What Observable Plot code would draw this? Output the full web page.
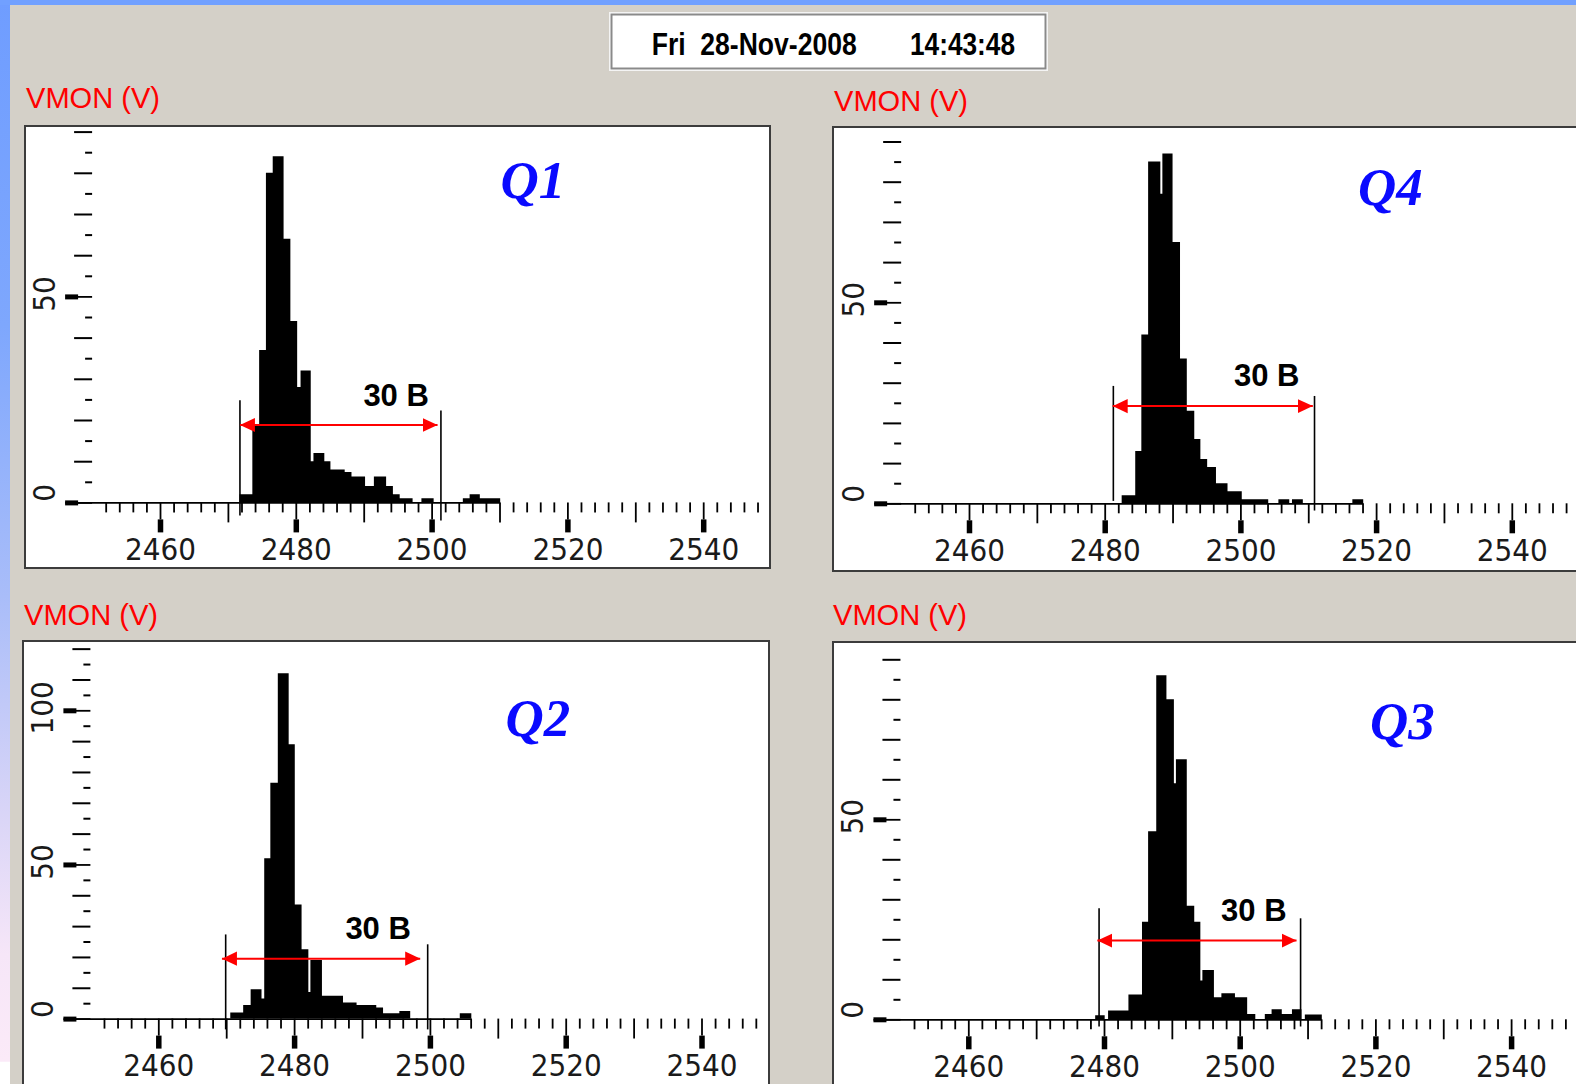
<!DOCTYPE html>
<html>
<head>
<meta charset="utf-8">
<script src="https://cdn.jsdelivr.net/npm/d3@7"></script>
<script src="https://cdn.jsdelivr.net/npm/@observablehq/plot@0.6"></script>
<style>
html, body { margin: 0; padding: 0; }
body { width: 1576px; height: 1084px; overflow: hidden; background: #d4d0c8; position: relative; font-family: "Liberation Sans", Arial, sans-serif; }
#leftbar { position: absolute; left: 0; top: 0; width: 10px; height: 1084px;
  background: linear-gradient(to bottom, #6f9dff 0%, #7ea7fd 30%, #a9bdf9 55%, #d9d5f7 75%, #f6e6f8 88%, #fbeaf8 97.9%, #ffffff 98%, #ffffff 100%); }
#topbar { position: absolute; left: 0; top: 0; width: 1576px; height: 5px; background: #71a0ff; }
.box { position: absolute; background: #fff; border: 2px solid #3c3c3c; box-sizing: border-box; overflow: hidden; }
#overlay { position: absolute; left: 0; top: 0; pointer-events: none; }
</style>
</head>
<body>
<div id="leftbar"></div>
<div id="topbar"></div>
<div id="panels"></div>
<svg id="overlay" width="1576" height="1084"></svg>
<script>
// ---------- shared axis values ----------
const xMajor = [2460, 2480, 2500, 2520, 2540];
const xMid = [2470, 2490, 2510, 2530];
const xMinor = d3.range(2452, 2549, 2).filter(v => v % 10 !== 0);
const yAxisAt = 2450;

const yLong90 = [10, 20, 30, 40, 60, 70, 80, 90];
const yShort90 = [5, 15, 25, 35, 45, 55, 65, 75, 85];
const yBold90 = [0, 50];
const yLong120 = [10, 20, 30, 40, 60, 70, 80, 90, 110, 120];
const yShort120 = [5, 15, 25, 35, 45, 55, 65, 75, 85, 95, 105, 115];
const yBold120 = [0, 50, 100];

// ---------- Q1 ----------
const q1Edges = [2471.7, 2473.6, 2474.6, 2475.6, 2476.6, 2478.2, 2479.2, 2480.2, 2480.7, 2482.2, 2482.6, 2484.2, 2485.1, 2487.2, 2488.2, 2490.2, 2491.5, 2493.3, 2494.3, 2495.3, 2497.2, 2498.5, 2500.3, 2504.6, 2505.6, 2507.1, 2508.4, 2510.1];
const q1Counts = [2, 19, 37, 80, 84, 64, 44, 28, 32, 10, 12, 10, 8, 7.4, 6.3, 4, 6.3, 4, 2, 1, 0, 1, 0, 1, 2, 1, 1];
const q1Bracket = [2471.7, 2501.3];
const q1BracketTop = [24.8, 22.3];
const q1BracketBottom = [-3.2, -4.4];
const q1Arrow = [2471.7, 2500.8];
const q1ArrowLevel = 18.9;
const q1Note = ["30 B"];
const q1NoteAt = [2494.7, 23.5];

// ---------- Q4 ----------
const q4Edges = [2482.5, 2484.5, 2485.4, 2486.4, 2488.2, 2488.5, 2490.0, 2491.1, 2492.1, 2493.2, 2494.1, 2495.1, 2496.4, 2498.1, 2500.2, 2504.1, 2505.6, 2507.2, 2507.6, 2509.2, 2516.5, 2518.1];
const q4Counts = [2, 13, 42, 85, 77, 87, 65, 36, 23, 16, 11, 9, 5, 3, 1, 0, 1, 0, 1, 0, 1];
const q4Bracket = [2481.2, 2510.85];
const q4BracketTop = [29.2, 26.7];
const q4BracketBottom = [0.6, -1.8];
const q4Arrow = [2481.1, 2510.6];
const q4ArrowLevel = 24.3;
const q4Note = ["30 B"];
const q4NoteAt = [2503.8, 29.4];

// ---------- Q2 ----------
const q2Edges = [2470.6, 2472.5, 2473.6, 2475.2, 2475.6, 2476.5, 2477.6, 2479.2, 2480.1, 2481.1, 2482.1, 2482.4, 2484.1, 2487.2, 2489.2, 2492.1, 2493.1, 2495.5, 2497.1, 2504.4, 2506.1];
const q2Counts = [2, 4.4, 9.5, 6.5, 52, 76.5, 112, 89, 37, 22.5, 8.6, 19, 7.4, 5.2, 4.4, 3.6, 1.7, 2.5, 0, 1.7];
const q2Bracket = [2469.85, 2499.6];
const q2BracketTop = [27.3, 24.1];
const q2BracketBottom = [-3.5, -3.5];
const q2Arrow = [2469.3, 2498.5];
const q2ArrowLevel = 19.6;
const q2Note = ["30 B"];
const q2NoteAt = [2492.3, 26];

// ---------- Q3 ----------
const q3Edges = [2478.7, 2480.1, 2480.6, 2483.6, 2485.6, 2486.5, 2487.7, 2489.2, 2490.3, 2490.6, 2492.2, 2493.3, 2494.2, 2494.5, 2496.2, 2497.3, 2499.3, 2501.1, 2502.3, 2503.7, 2504.7, 2506.2, 2507.7, 2509.1, 2509.6, 2512.1];
const q3Counts = [1, 0, 2.2, 6.2, 24.4, 47, 86, 80, 59, 65, 28.4, 24.4, 9.7, 12.3, 5.5, 6.5, 5.5, 1.3, 0, 1.3, 2.5, 1.3, 2.5, 0, 1.2];
const q3Bracket = [2479.2, 2508.9];
const q3BracketTop = [27.75, 25.25];
const q3BracketBottom = [-1.8, -1.8];
const q3Arrow = [2478.95, 2508.3];
const q3ArrowLevel = 19.8;
const q3Note = ["30 B"];
const q3NoteAt = [2502.0, 24.8];

const tickFont = "'Liberation Sans Narrow','DejaVu Sans Condensed','Liberation Sans',Arial,sans-serif";

const triMarker = (color) => {
  const m = d3.create("svg:marker")
    .attr("viewBox", "-10 -5 10 10")
    .attr("markerWidth", 7.5)
    .attr("markerHeight", 7.5)
    .attr("orient", "auto-start-reverse")
    .attr("fill", color)
    .attr("stroke", "none");
  m.append("path").attr("d", "M-10,-4.7L0,0L-10,4.7Z");
  return m.node();
};

function arrowMark(x1, x2, level) {
  const opts = {x1: () => x1, x2: () => x2, y1: () => level, y2: () => level, stroke: "#ff0000", strokeWidth: 2};
  try {
    return Plot.link([0], {...opts, markerStart: triMarker, markerEnd: triMarker});
  } catch (e) {
    return Plot.link([0], {...opts, markerStart: "arrow", markerEnd: "arrow"});
  }
}

function makePanel(p) {
  const ux = 1 / p.pxV, uy = 1 / p.pxC;
  const vL = 2460 - p.x0 * ux, vR = vL + p.W * ux;
  const yLo = -(p.H - p.base) * uy, yHi = p.base * uy;
  const hist = p.edges.map((e, i) => ({v: e, c: i < p.counts.length ? p.counts[i] : 0}));
  const idx = [0, 1];
  const chart = Plot.plot({
    width: p.W, height: p.H,
    marginLeft: 0, marginRight: 0, marginTop: 0, marginBottom: 0,
    x: {domain: [vL, vR], axis: null},
    y: {domain: [yLo, yHi], axis: null},
    style: "max-width:none;background:transparent;overflow:visible;position:absolute;left:-2px;top:-2px;",
    marks: [
      Plot.area(hist, {x1: "v", y1: () => 0, y2: "c", curve: "step-after", fill: "black"}),
      Plot.ruleY([0], {x1: () => yAxisAt - 27 * ux, x2: () => p.edges[p.edges.length - 1], stroke: "black", strokeWidth: 1.8}),
      // x ticks
      Plot.ruleX(xMinor, {y1: () => 0, y2: () => -10 * uy, stroke: "black", strokeWidth: 1.8}),
      Plot.ruleX(xMid, {y1: () => 0, y2: () => -20 * uy, stroke: "black", strokeWidth: 1.8}),
      Plot.ruleX(xMajor, {y1: () => 0, y2: () => -17 * uy, stroke: "black", strokeWidth: 1.8}),
      Plot.ruleX(xMajor, {y1: () => -17 * uy, y2: () => -30 * uy, stroke: "black", strokeWidth: 5.5}),
      Plot.text(xMajor, {x: d => d, y: () => -57 * uy, text: d => String(d), lineAnchor: "bottom", textAnchor: "middle",
        fontSize: 31, fontFamily: tickFont, fill: "#1a1a1a", ariaLabel: "xtick"}),
      // y ticks
      Plot.ruleY(p.yLong, {x1: () => yAxisAt - 18 * ux, x2: () => yAxisAt, stroke: "black", strokeWidth: 2}),
      Plot.ruleY(p.yShort, {x1: () => yAxisAt - 7 * ux, x2: () => yAxisAt, stroke: "black", strokeWidth: 2}),
      Plot.ruleY(p.yBold, {x1: () => yAxisAt - 15 * ux, x2: () => yAxisAt, stroke: "black", strokeWidth: 1.8}),
      Plot.ruleY(p.yBold, {x1: () => yAxisAt - 27 * ux, x2: () => yAxisAt - 14 * ux, stroke: "black", strokeWidth: 5}),
      Plot.text(p.yBold.filter(d => d !== 0), {x: () => yAxisAt, y: d => d, text: d => String(d), rotate: -90, dx: -48, dy: -3,
        lineAnchor: "middle", textAnchor: "middle", fontSize: 31, fontFamily: tickFont, fill: "#1a1a1a", ariaLabel: "ytick"}),
      Plot.text([0], {x: () => yAxisAt, y: d => d, text: d => String(d), rotate: -90, dx: -48, dy: -10,
        lineAnchor: "middle", textAnchor: "middle", fontSize: 31, fontFamily: tickFont, fill: "#1a1a1a", ariaLabel: "ytick"}),
      // annotation: span brackets, arrow, label
      Plot.ruleX(idx, {x: i => p.bracket[i], y1: i => p.bracketBottom[i], y2: i => p.bracketTop[i], stroke: "black", strokeWidth: 1.6}),
      arrowMark(p.arrow[0], p.arrow[1], p.arrowLevel),
      Plot.text(p.note, {x: () => p.noteAt[0], y: () => p.noteAt[1], text: d => d, lineAnchor: "bottom", textAnchor: "middle",
        fontSize: 31, fontWeight: "bold", fontFamily: "'Liberation Sans',Arial,sans-serif", fill: "black"})
    ]
  });
  d3.select(chart).selectAll('g[aria-label="xtick"] text').each(function () {
    const n = this.textContent.length;
    this.setAttribute("textLength", n * 15);
    this.setAttribute("lengthAdjust", "spacingAndGlyphs");
  });
  d3.select(chart).selectAll('g[aria-label="ytick"] text').each(function () {
    const n = this.textContent.length;
    this.setAttribute("textLength", n * 14);
    this.setAttribute("lengthAdjust", "spacingAndGlyphs");
  });
  const box = document.createElement("div");
  box.className = "box";
  box.style.left = p.left + "px";
  box.style.top = p.top + "px";
  box.style.width = p.W + "px";
  box.style.height = p.H + "px";
  box.appendChild(chart);
  document.getElementById("panels").appendChild(box);
}

const panels = [
  {left: 24, top: 125, W: 747, H: 444, x0: 136, base: 377.4, pxV: 6.79, pxC: 4.12,
   edges: q1Edges, counts: q1Counts, yLong: yLong90, yShort: yShort90, yBold: yBold90,
   bracket: q1Bracket, bracketTop: q1BracketTop, bracketBottom: q1BracketBottom,
   arrow: q1Arrow, arrowLevel: q1ArrowLevel, note: q1Note, noteAt: q1NoteAt},
  {left: 832, top: 126, W: 750, H: 446, x0: 137, base: 377.3, pxV: 6.785, pxC: 4.02,
   edges: q4Edges, counts: q4Counts, yLong: yLong90, yShort: yShort90, yBold: yBold90,
   bracket: q4Bracket, bracketTop: q4BracketTop, bracketBottom: q4BracketBottom,
   arrow: q4Arrow, arrowLevel: q4ArrowLevel, note: q4Note, noteAt: q4NoteAt},
  {left: 22, top: 640, W: 748, H: 462, x0: 136.3, base: 378.6, pxV: 6.79, pxC: 3.083,
   edges: q2Edges, counts: q2Counts, yLong: yLong120, yShort: yShort120, yBold: yBold120,
   bracket: q2Bracket, bracketTop: q2BracketTop, bracketBottom: q2BracketBottom,
   arrow: q2Arrow, arrowLevel: q2ArrowLevel, note: q2Note, noteAt: q2NoteAt},
  {left: 832, top: 641, W: 750, H: 462, x0: 136.3, base: 378.3, pxV: 6.785, pxC: 4.0,
   edges: q3Edges, counts: q3Counts, yLong: yLong90, yShort: yShort90, yBold: yBold90,
   bracket: q3Bracket, bracketTop: q3BracketTop, bracketBottom: q3BracketBottom,
   arrow: q3Arrow, arrowLevel: q3ArrowLevel, note: q3Note, noteAt: q3NoteAt}
];
panels.forEach(makePanel);

// ---------- overlay texts: header, VMON titles, quadrant names ----------
const overlay = d3.select("#overlay");
overlay.append("rect").attr("x", 609.5).attr("y", 12.5).attr("width", 438).attr("height", 58)
  .attr("fill", "#ffffff").attr("stroke", "#f4f4f4").attr("stroke-width", 1);
overlay.append("rect").attr("x", 611.5).attr("y", 14.5).attr("width", 434).attr("height", 54)
  .attr("fill", "none").attr("stroke", "#8a8a8a").attr("stroke-width", 2);
const headerText = [
  {t: "Fri  28-Nov-2008", x: 651.7, len: 205},
  {t: "14:43:48", x: 910, len: 105}
];
headerText.forEach(h => {
  overlay.append("text").attr("x", h.x).attr("y", 55).text(h.t)
    .attr("font-family", "'Liberation Sans',Arial,sans-serif").attr("font-weight", "bold").attr("font-size", 32)
    .attr("fill", "#000").style("white-space", "pre")
    .attr("textLength", h.len).attr("lengthAdjust", "spacingAndGlyphs");
});
const titles = [
  {x: 26, y: 108}, {x: 834, y: 111}, {x: 24, y: 625}, {x: 833, y: 625}
];
titles.forEach(t => {
  overlay.append("text").attr("x", t.x).attr("y", t.y).text("VMON (V)")
    .attr("font-family", "'Liberation Sans',Arial,sans-serif").attr("font-size", 30)
    .attr("fill", "#ff0000").attr("textLength", 134).attr("lengthAdjust", "spacingAndGlyphs");
});
const names = [
  {t: "Q1", x: 500.5, y: 198}, {t: "Q4", x: 1358, y: 205}, {t: "Q2", x: 505.5, y: 736}, {t: "Q3", x: 1370, y: 739}
];
names.forEach(n => {
  overlay.append("text").attr("x", n.x).attr("y", n.y).text(n.t)
    .attr("font-family", "'Liberation Serif','Times New Roman',serif").attr("font-size", 53)
    .attr("font-weight", "bold").attr("font-style", "italic").attr("fill", "#0a0aff");
});
</script>
</body>
</html>
